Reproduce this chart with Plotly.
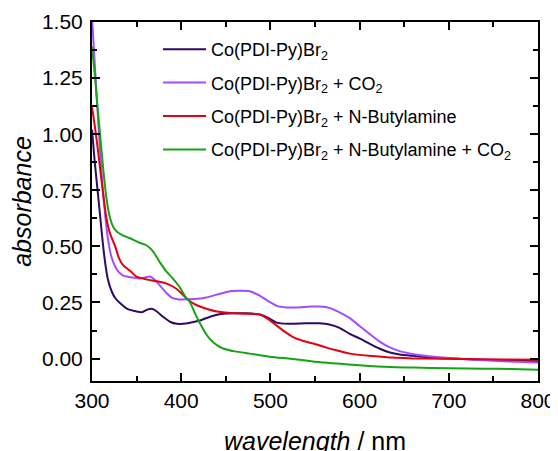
import plotly.graph_objects as go

# Co(PDI-Py)Br2
wl_a = [300, 303, 306, 309, 312, 315, 318, 322, 326, 332, 340, 348, 356, 362, 367, 372, 380, 388, 395, 402,
        410, 421, 435, 447, 460, 473, 488, 498, 507, 520, 540, 555, 566, 577, 589, 600, 611, 622, 634, 645,
        660, 680, 700, 730, 760, 800]
abs_a = [1.02, 0.88, 0.76, 0.64, 0.52, 0.42, 0.35, 0.30, 0.27, 0.245, 0.22, 0.212, 0.207, 0.218, 0.222, 0.212,
         0.185, 0.163, 0.155, 0.155, 0.16, 0.17, 0.19, 0.20, 0.202, 0.202, 0.196, 0.18, 0.16, 0.155, 0.157,
         0.157, 0.152, 0.138, 0.11, 0.09, 0.067, 0.045, 0.027, 0.018, 0.012, 0.005, 0.0, -0.004, -0.008, -0.012]

# Co(PDI-Py)Br2 + CO2
wl_b = [300, 303, 306, 309, 312, 315, 318, 322, 326, 330, 335, 340, 348, 354, 360, 365, 370, 378, 384, 390,
        396, 402, 415, 428, 440, 455, 466, 477, 488, 498, 507, 518, 530, 545, 555, 566, 577, 589, 600, 611,
        622, 634, 645, 656, 670, 690, 720, 760, 800]
abs_b = [1.52, 1.32, 1.12, 0.93, 0.76, 0.63, 0.53, 0.45, 0.41, 0.385, 0.37, 0.365, 0.36, 0.357, 0.362, 0.366,
         0.352, 0.317, 0.29, 0.27, 0.264, 0.263, 0.265, 0.272, 0.285, 0.30, 0.302, 0.30, 0.28, 0.255, 0.235,
         0.228, 0.228, 0.232, 0.232, 0.226, 0.207, 0.18, 0.145, 0.11, 0.077, 0.05, 0.033, 0.023, 0.014, 0.006,
         -0.003, -0.012, -0.018]

# Co(PDI-Py)Br2 + N-Butylamine
wl_c = [300, 303, 306, 309, 312, 316, 320, 326, 330, 335, 343, 350, 361, 372, 383, 395, 406, 414, 421, 430,
        440, 455, 473, 488, 498, 507, 516, 526, 537, 548, 562, 575, 589, 610, 634, 670, 720, 760, 800]
abs_c = [1.12, 1.04, 0.95, 0.85, 0.75, 0.63, 0.56, 0.50, 0.45, 0.415, 0.39, 0.365, 0.353, 0.345, 0.335, 0.31,
         0.268, 0.245, 0.232, 0.22, 0.21, 0.203, 0.20, 0.196, 0.175, 0.147, 0.12, 0.094, 0.078, 0.067, 0.05,
         0.036, 0.022, 0.012, 0.005, 0.0, -0.002, -0.004, -0.005]

# Co(PDI-Py)Br2 + N-Butylamine + CO2
wl_d = [300, 303, 306, 309, 312, 316, 320, 324, 328, 334, 340, 346, 354, 361, 368, 376, 383, 390, 398, 404,
        410, 416, 421, 427, 432, 440, 447, 460, 477, 490, 507, 525, 540, 560, 575, 600, 634, 660, 700, 740,
        770, 800]
abs_d = [1.39, 1.27, 1.13, 1.0, 0.87, 0.72, 0.63, 0.585, 0.565, 0.55, 0.54, 0.53, 0.515, 0.505, 0.48, 0.43,
         0.39, 0.36, 0.32, 0.28, 0.25, 0.197, 0.157, 0.115, 0.088, 0.06, 0.045, 0.032, 0.022, 0.014, 0.005,
         -0.002, -0.009, -0.018, -0.022, -0.03, -0.038, -0.04, -0.043, -0.045, -0.047, -0.05]

names = ["Co(PDI-Py)Br<sub>2</sub>",
         "Co(PDI-Py)Br<sub>2</sub> + CO<sub>2</sub>",
         "Co(PDI-Py)Br<sub>2</sub> + N-Butylamine",
         "Co(PDI-Py)Br<sub>2</sub> + N-Butylamine + CO<sub>2</sub>"]
colors = ["#2d0a63", "#a24cff", "#e3000f", "#17a317"]

x_ticks = [300, 400, 500, 600, 700, 800]
y_ticks = [0.00, 0.25, 0.50, 0.75, 1.00, 1.25, 1.50]
x_title = "<i>wavelength</i> / nm"
y_title = "<i>absorbance</i>"

fig = go.Figure()
for i, (xs, ys) in enumerate([(wl_a, abs_a), (wl_b, abs_b), (wl_c, abs_c), (wl_d, abs_d)]):
    fig.add_trace(go.Scatter(x=xs, y=ys, mode="lines", name=names[i],
                             line=dict(color=colors[i], width=2, shape="spline", smoothing=0.6),
                             legendgroup=str(i)))

axis_common = dict(showline=True, linecolor="black", linewidth=2, mirror="allticks",
                   ticks="inside", ticklen=8, tickwidth=2, tickcolor="black",
                   showgrid=False, zeroline=False, automargin=False,
                   tickfont=dict(family="Liberation Sans, Arial", size=21, color="black"),
                   minor=dict(ticks="inside", ticklen=5, tickwidth=2, tickcolor="black"))

fig.update_xaxes(range=[300, 800], tickvals=x_ticks, ticktext=[str(v) for v in x_ticks],
                 **axis_common)
fig.update_xaxes(minor=dict(dtick=50, tick0=300))
fig.update_yaxes(range=[-0.1, 1.5], tickvals=y_ticks, ticktext=[f"{v:.2f}" for v in y_ticks],
                 ticklabelstandoff=3,
                 title=dict(text=y_title, standoff=8,
                            font=dict(family="Liberation Sans, Arial", size=25, color="black")),
                 **axis_common)
fig.update_yaxes(minor=dict(dtick=0.125, tick0=0))

fig.add_annotation(text=x_title, xref="paper", yref="paper", x=0.5, y=0,
                   xanchor="center", yanchor="middle", yshift=-60, showarrow=False,
                   font=dict(family="Liberation Sans, Arial", size=25, color="black"))

fig.update_layout(
    width=550, height=443,
    margin=dict(l=84, r=20, t=14, b=70),
    plot_bgcolor="white", paper_bgcolor="white",
    font=dict(family="Liberation Sans, Arial", color="black"),
    legend=dict(x=0.148, y=0.975, xanchor="left", yanchor="top",
                bgcolor="rgba(0,0,0,0)", borderwidth=0, itemwidth=43,
                font=dict(family="Liberation Sans, Arial", size=18, color="black"),
                tracegroupgap=7),
)

fig.write_html("out.html")
